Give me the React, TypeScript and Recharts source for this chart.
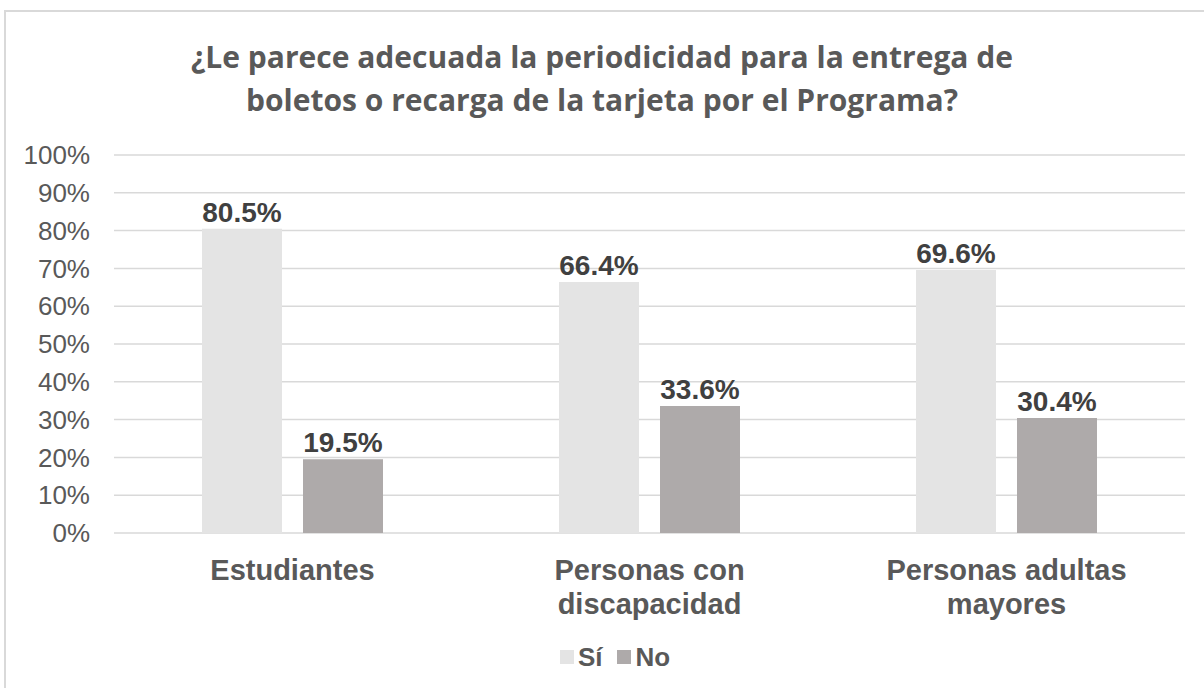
import React from 'react';
import { BarChart, Bar, XAxis, YAxis, CartesianGrid, Legend, LabelList } from 'recharts';

const categories = ['Estudiantes', 'Personas con discapacidad', 'Personas adultas mayores'];
const siValues = [80.5, 66.4, 69.6];
const noValues = [19.5, 33.6, 30.4];
const yTicks = [0, 10, 20, 30, 40, 50, 60, 70, 80, 90, 100];
const seriesNames = ['Sí', 'No'];
const seriesColors = ['#E4E4E4', '#AEAAAA'];

const titleLines = [
  '¿Le parece adecuada la periodicidad para la entrega de',
  'boletos o recarga de la tarjeta por el Programa?',
];

const data = categories.map((name, i) => ({ name, si: siValues[i], no: noValues[i] }));

const ARIAL = '"Liberation Sans", Arial, sans-serif';
const TEXT = '#595959';

// two words on the first line, the rest below (like the original wrap)
const CategoryTick = (props: any) => {
  const { x, y, payload } = props;
  const words = String(payload.value).split(' ');
  const lines = words.length > 2 ? [words.slice(0, 2).join(' '), words.slice(2).join(' ')] : [words.join(' ')];
  return (
    <text x={x} y={y} textAnchor="middle" fill={TEXT} fontSize={29} fontWeight="bold" fontFamily={ARIAL}>
      {lines.map((l, i) => (
        <tspan key={i} x={x} dy={i === 0 ? 45 : 34}>
          {l}
        </tspan>
      ))}
    </text>
  );
};

const renderLegend = () => (
  <div
    style={{
      display: 'flex',
      justifyContent: 'center',
      alignItems: 'center',
      height: 34,
      paddingLeft: 26,
      fontFamily: ARIAL,
      fontWeight: 'bold',
      fontSize: 26,
      color: TEXT,
    }}
  >
    {seriesNames.map((n, i) => (
      <span key={n} style={{ display: 'flex', alignItems: 'center', marginRight: i === 0 ? 15 : 0, fontFamily: ARIAL }}>
        <span style={{ width: 14, height: 14, background: seriesColors[i], marginRight: 4, display: 'inline-block' }} />
        {n}
      </span>
    ))}
  </div>
);

const pct = (v: any) => `${Number(v).toFixed(1)}%`;

export default function App() {
  return (
    <div style={{ position: 'absolute', left: 0, top: 0, width: 1204, height: 688, overflow: 'hidden', background: '#fff' }}>
      <div
        style={{
          position: 'absolute',
          left: 4,
          top: 10,
          width: 1300,
          height: 800,
          border: '2px solid #D9D9D9',
        }}
      />
      <div
        style={{
          position: 'absolute',
          left: 0,
          top: 35,
          width: 1204,
          textAlign: 'center',
          fontFamily: '"Open Sans", sans-serif',
          fontWeight: 700,
          fontSize: 30,
          lineHeight: '43px',
          color: TEXT,
        }}
      >
        {titleLines.map((t) => (
          <div key={t}>{t}</div>
        ))}
      </div>
      <div style={{ position: 'absolute', left: 0, top: 0 }}>
        <BarChart
          width={1204}
          height={688}
          data={data}
          margin={{ top: 155, right: 19, left: 0, bottom: 95 }}
          barSize={80}
          barGap={21}
        >
          <CartesianGrid vertical={false} stroke="#D9D9D9" strokeWidth={1.5} />
          <XAxis
            dataKey="name"
            axisLine={false}
            tickLine={false}
            tickSize={0}
            height={60}
            interval={0}
            tick={<CategoryTick />}
          />
          <YAxis
            width={114}
            domain={[0, 100]}
            ticks={yTicks}
            interval={0}
            axisLine={false}
            tickLine={false}
            tickSize={0}
            tickMargin={24}
            tickFormatter={(v) => `${v}%`}
            tick={{ fill: TEXT, fontSize: 26, fontFamily: ARIAL }}
          />
          <Legend
            verticalAlign="middle"
            content={renderLegend}
            wrapperStyle={{ left: 0, top: 640, width: 1204, fontFamily: ARIAL }}
          />
          <Bar dataKey="si" name={seriesNames[0]} fill={seriesColors[0]} isAnimationActive={false}>
            <LabelList dataKey="si" position="top" offset={7} formatter={pct} fill="#404040" fontSize={28} fontWeight="bold" fontFamily={ARIAL} />
          </Bar>
          <Bar dataKey="no" name={seriesNames[1]} fill={seriesColors[1]} isAnimationActive={false}>
            <LabelList dataKey="no" position="top" offset={7} formatter={pct} fill="#404040" fontSize={28} fontWeight="bold" fontFamily={ARIAL} />
          </Bar>
        </BarChart>
      </div>
    </div>
  );
}
